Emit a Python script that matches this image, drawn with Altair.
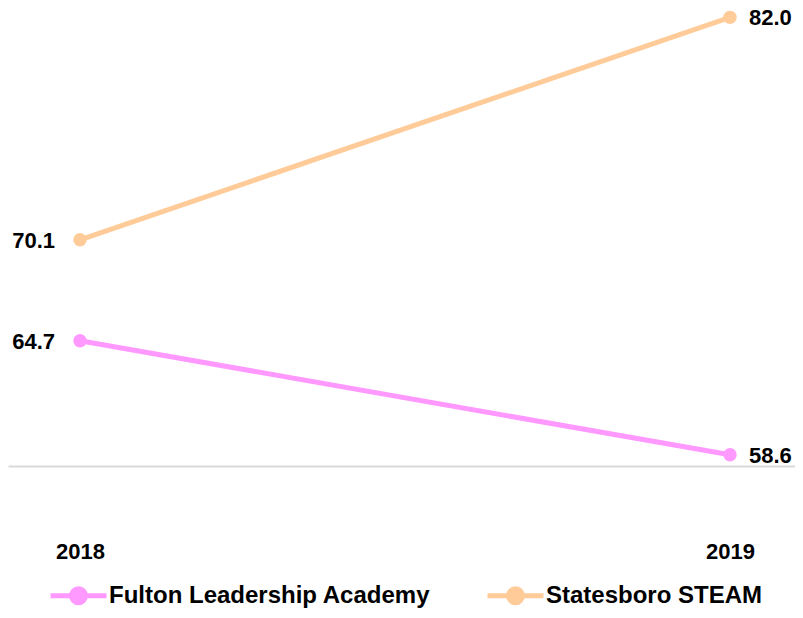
import altair as alt
import pandas as pd

schools = ["Fulton Leadership Academy", "Fulton Leadership Academy",
           "Statesboro STEAM", "Statesboro STEAM"]
years = [2018, 2019, 2018, 2019]
values = [64.7, 58.6, 70.1, 82.0]
year_ticks = [2018, 2019]
series_names = ["Fulton Leadership Academy", "Statesboro STEAM"]
series_colors = ["#FF99FF", "#FFCC99"]

df = pd.DataFrame({"school": schools, "year": years, "value": values})

FONT = "Liberation Sans"

x = alt.X("year:Q",
          scale=alt.Scale(domain=[2017.88923, 2019.1], nice=False, zero=False),
          axis=alt.Axis(values=year_ticks, format="d", title=None, grid=False,
                        ticks=False, labelPadding=75, labelFontSize=22,
                        labelFontWeight="bold", labelColor="#000000",
                        labelFont=FONT, domainColor="#d9d9d9", domainWidth=2,
                        labelFlush=False))
y = alt.Y("value:Q", scale=alt.Scale(domain=[58, 82.5], nice=False, zero=False),
          axis=None)
color = alt.Color("school:N",
                  scale=alt.Scale(domain=series_names, range=series_colors),
                  legend=alt.Legend(
                      title=None, orient="none", legendX=40, legendY=557,
                      direction="horizontal", columns=2, columnPadding=46,
                      symbolType="M-1,0L1,0M-0.25,0A0.25,0.25 0 1,0 0.25,0A0.25,0.25 0 1,0 -0.25,0Z",
                      symbolSize=3136, symbolStrokeWidth=5, labelOffset=0,
                      labelFontSize=24, labelFontWeight="bold", labelFont=FONT,
                      labelColor="#000000", labelLimit=400, padding=0))

base = alt.Chart(df)
lines = base.mark_line(strokeWidth=5).encode(x=x, y=y, color=color)
points = base.mark_circle(size=180, opacity=1).encode(x=x, y=y, color=color)
left_lbl = base.transform_filter("datum.year == 2018").mark_text(
    align="right", baseline="middle", dx=-25, dy=1, fontSize=22,
    fontWeight="bold", font=FONT, color="#000000").encode(
    x=x, y=y, text=alt.Text("value:Q", format=".1f"))
right_lbl = base.transform_filter("datum.year == 2019").mark_text(
    align="left", baseline="middle", dx=19, dy=1, fontSize=22,
    fontWeight="bold", font=FONT, color="#000000").encode(
    x=x, y=y, text=alt.Text("value:Q", format=".1f"))

chart = alt.layer(lines, points, left_lbl, right_lbl).properties(
    width=787, height=458,
    padding={"left": 0, "top": 0, "right": 0, "bottom": 142},
    autosize=alt.AutoSizeParams(type="none"),
    background="white"
).configure_view(stroke=None)

chart.save("out.html", embed_options={"renderer": "svg", "actions": False})
